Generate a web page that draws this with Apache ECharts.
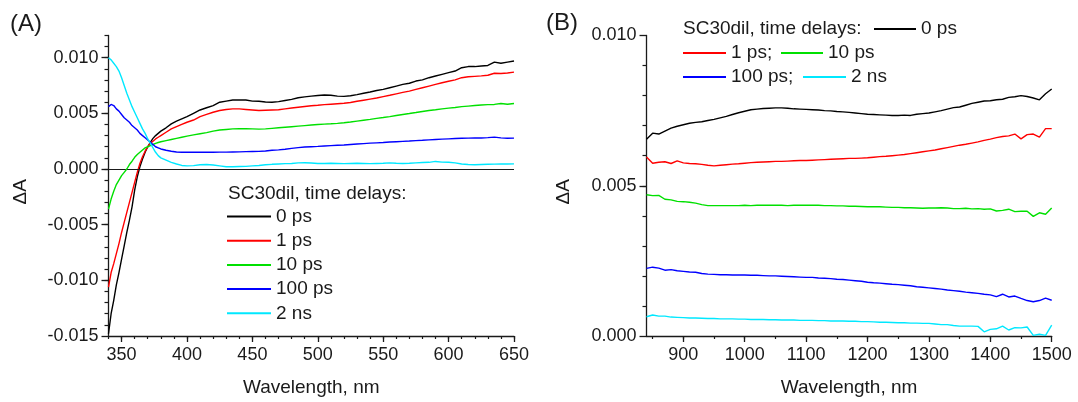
<!DOCTYPE html>
<html>
<head>
<meta charset="utf-8">
<title>SC30dil transient absorption spectra</title>
<script src="https://cdn.jsdelivr.net/npm/echarts@6/dist/echarts.min.js"></script>
<style>
  html, body { margin: 0; padding: 0; background: #fff; }
  #main { width: 1078px; height: 402px; }
</style>
</head>
<body>
<div id="main"></div>
<script>
// panel A: UV-vis range, wavelengths in nm, dA values in units of 1e-3
var wlA = [340,342,344,346,348,350,352,354,356,358,360,362,364,366,368,370,372,374,376,378,380,
  384,388,392,396,
  400,405,410,415,420,425,430,435,440,445,450,455,460,465,470,475,480,485,490,495,
  500,505,510,515,520,525,530,535,540,545,550,555,560,565,570,575,580,585,590,595,
  600,605,610,615,620,625,630,635,640,645,650];
var a0ps = [-14.8,-13.0,-11.8,-10.4,-9.3,-8.1,-6.9,-5.7,-4.6,-3.4,-1.9,-0.7,0.2,0.9,1.5,2.0,2.4,2.75,3.0,3.2,3.4,
  3.7,4.05,4.3,4.5,
  4.7,5.0,5.3,5.5,5.7,6.0,6.1,6.2,6.2,6.2,6.1,6.08,6.02,6.0,6.05,6.15,6.25,6.4,6.48,6.55,
  6.6,6.65,6.62,6.55,6.52,6.58,6.68,6.8,6.92,7.05,7.15,7.3,7.45,7.6,7.7,7.9,8.0,8.2,8.35,8.5,
  8.65,8.8,9.1,9.2,9.2,9.25,9.3,9.6,9.5,9.6,9.7];
var a1ps = [-10.6,-9.3,-8.5,-7.6,-6.7,-5.7,-4.8,-3.9,-3.0,-2.1,-1.2,-0.3,0.5,1.1,1.6,2.0,2.3,2.5,2.7,2.85,3.0,
  3.3,3.6,3.8,4.0,
  4.2,4.4,4.7,4.9,5.1,5.25,5.35,5.4,5.4,5.35,5.3,5.25,5.28,5.3,5.32,5.4,5.48,5.55,5.62,5.68,
  5.72,5.78,5.82,5.86,5.9,5.97,6.08,6.18,6.28,6.38,6.5,6.62,6.75,6.88,7.0,7.15,7.3,7.45,7.6,7.75,
  7.88,8.0,8.2,8.28,8.32,8.36,8.42,8.6,8.58,8.62,8.7];
var a10ps = [-3.6,-2.7,-2.0,-1.4,-1.0,-0.6,-0.3,0.0,0.4,0.7,1.05,1.3,1.5,1.7,1.9,2.0,2.1,2.2,2.3,2.38,2.45,
  2.55,2.65,2.75,2.85,
  2.95,3.07,3.17,3.27,3.4,3.5,3.55,3.6,3.62,3.62,3.6,3.58,3.6,3.65,3.7,3.75,3.8,3.85,3.9,3.95,
  4.0,4.03,4.06,4.1,4.15,4.22,4.3,4.38,4.46,4.55,4.62,4.7,4.8,4.9,4.98,5.07,5.17,5.25,5.32,5.4,
  5.47,5.52,5.6,5.65,5.7,5.75,5.78,5.8,5.88,5.82,5.88];
var a100ps = [5.6,5.8,5.7,5.4,5.2,4.9,4.6,4.4,4.2,3.9,3.7,3.5,3.2,3.0,2.8,2.6,2.4,2.2,2.0,1.9,1.8,
  1.68,1.6,1.53,1.5,
  1.5,1.5,1.51,1.5,1.51,1.52,1.52,1.53,1.54,1.56,1.57,1.58,1.62,1.68,1.72,1.78,1.85,1.92,1.97,2.0,
  2.03,2.07,2.1,2.13,2.16,2.2,2.24,2.28,2.32,2.35,2.38,2.42,2.45,2.48,2.51,2.55,2.58,2.62,2.65,2.68,
  2.71,2.74,2.76,2.77,2.78,2.79,2.82,2.86,2.8,2.76,2.77];
var a2ns = [10.0,9.8,9.5,9.2,8.8,8.2,7.5,6.8,6.2,5.6,5.1,4.6,4.1,3.6,3.2,2.7,2.3,1.9,1.5,1.2,1.0,
  0.8,0.6,0.45,0.32,
  0.28,0.3,0.38,0.4,0.36,0.28,0.2,0.2,0.22,0.24,0.28,0.32,0.38,0.42,0.45,0.48,0.5,0.55,0.56,0.54,
  0.5,0.5,0.52,0.5,0.48,0.5,0.52,0.5,0.48,0.5,0.52,0.55,0.52,0.5,0.52,0.55,0.58,0.6,0.68,0.62,
  0.6,0.55,0.45,0.4,0.38,0.4,0.42,0.44,0.45,0.45,0.46];

// panel B: near-IR range
var wlB = [840,850,860,870,880,890,900,910,920,930,940,950,960,970,980,990,1000,1010,1020,1030,
  1040,1050,1060,1070,1080,1090,1100,1110,1120,1130,1140,1150,1160,1170,1180,1190,1200,1210,1220,1230,
  1240,1250,1260,1270,1280,1290,1300,1310,1320,1330,1340,1350,1360,1370,1380,1390,1400,1410,1420,1430,
  1440,1450,1460,1470,1480,1490,1500];
var b0ps = [6.55,6.75,6.72,6.82,6.92,6.98,7.03,7.08,7.11,7.13,7.17,7.21,7.26,7.31,7.37,7.43,7.48,7.53,7.55,7.57,
  7.58,7.59,7.59,7.58,7.56,7.55,7.54,7.53,7.52,7.50,7.49,7.47,7.46,7.44,7.42,7.40,7.38,7.37,7.36,7.35,
  7.34,7.34,7.35,7.34,7.38,7.40,7.42,7.46,7.50,7.55,7.60,7.62,7.68,7.74,7.78,7.82,7.83,7.86,7.88,7.94,
  7.96,8.00,7.97,7.92,7.86,8.06,8.22];
var b1ps = [5.96,5.75,5.78,5.80,5.74,5.83,5.76,5.74,5.73,5.71,5.68,5.66,5.68,5.70,5.72,5.73,5.75,5.77,5.78,5.79,
  5.80,5.81,5.81,5.82,5.83,5.84,5.84,5.85,5.86,5.87,5.88,5.89,5.90,5.91,5.91,5.92,5.93,5.95,5.97,5.98,
  6.00,6.02,6.04,6.07,6.10,6.13,6.16,6.19,6.23,6.27,6.31,6.35,6.38,6.42,6.46,6.51,6.55,6.60,6.64,6.66,
  6.72,6.56,6.70,6.72,6.62,6.90,6.90];
var b10ps = [4.70,4.67,4.68,4.55,4.53,4.48,4.47,4.45,4.42,4.37,4.34,4.34,4.34,4.34,4.34,4.34,4.35,4.34,4.35,4.35,
  4.35,4.35,4.35,4.34,4.35,4.35,4.35,4.35,4.35,4.34,4.34,4.33,4.33,4.32,4.32,4.31,4.30,4.30,4.30,4.29,
  4.28,4.28,4.27,4.27,4.26,4.25,4.26,4.26,4.27,4.26,4.24,4.24,4.25,4.23,4.24,4.22,4.23,4.16,4.18,4.22,
  4.14,4.15,4.15,3.98,4.10,4.05,4.26];
var b100ps = [2.25,2.29,2.26,2.19,2.21,2.17,2.15,2.13,2.12,2.08,2.06,2.05,2.04,2.04,2.03,2.03,2.03,2.02,2.02,2.01,
  2.00,2.00,1.99,1.98,1.97,1.96,1.95,1.95,1.93,1.92,1.91,1.89,1.88,1.86,1.84,1.82,1.79,1.77,1.76,1.74,
  1.72,1.71,1.69,1.67,1.64,1.62,1.60,1.58,1.56,1.53,1.51,1.49,1.46,1.44,1.42,1.39,1.37,1.31,1.39,1.30,
  1.33,1.25,1.18,1.14,1.18,1.26,1.19];
var b2ns = [0.64,0.70,0.66,0.66,0.63,0.62,0.61,0.60,0.60,0.59,0.58,0.58,0.57,0.57,0.57,0.56,0.56,0.55,0.55,0.55,
  0.54,0.54,0.53,0.53,0.53,0.52,0.52,0.52,0.51,0.51,0.50,0.50,0.50,0.49,0.49,0.48,0.48,0.47,0.46,0.46,
  0.45,0.44,0.44,0.43,0.43,0.42,0.42,0.40,0.38,0.38,0.35,0.33,0.33,0.33,0.32,0.14,0.22,0.24,0.33,0.20,
  0.28,0.27,0.30,0.02,0.06,0.02,0.36];

var delays = ['0 ps', '1 ps', '10 ps', '100 ps', '2 ns'];
var colors = ['#000000', '#ff0000', '#00e000', '#0000ff', '#00e8ff'];

var xTicksA = [350, 400, 450, 500, 550, 600, 650];
var yTicksA = [-0.015, -0.010, -0.005, 0, 0.005, 0.010];
var xTicksB = [900, 1000, 1100, 1200, 1300, 1400, 1500];
var yTicksB = [0, 0.005, 0.010];

var FONT = 'Liberation Sans, Arial, sans-serif';
var INK = '#1a1a1a';

function steps(from, to, step) {
  var out = [];
  for (var k = 0; from + k * step <= to + step / 2; k++) out.push(+(from + k * step).toFixed(4));
  return out;
}

function mainX(grid, min, max, ticks) {
  return {
    type: 'value', gridIndex: grid, min: min, max: max, position: 'bottom',
    name: 'Wavelength, nm', nameLocation: 'middle', nameGap: 42,
    nameTextStyle: { fontSize: 19, color: INK, fontFamily: FONT },
    axisLine: { onZero: false, lineStyle: { color: INK, width: 1.3 } },
    axisTick: { customValues: ticks, length: 6, lineStyle: { color: INK, width: 1.3 } },
    axisLabel: { customValues: ticks, fontSize: 18, color: INK, fontFamily: FONT, margin: 10,
      formatter: function (v) { return String(v); } },
    splitLine: { show: false }
  };
}
function minorX(grid, min, max, ticks) {
  return {
    type: 'value', gridIndex: grid, min: min, max: max, position: 'bottom',
    axisLine: { show: false, onZero: false },
    axisTick: { customValues: ticks, length: 3, lineStyle: { color: INK, width: 1.2 } },
    axisLabel: { show: false }, splitLine: { show: false }
  };
}
function mainY(grid, min, max, ticks, gap) {
  return {
    type: 'value', gridIndex: grid, min: min, max: max, position: 'left',
    name: '\u0394A', nameLocation: 'middle', nameRotate: 90, nameGap: gap,
    nameTextStyle: { fontSize: 19, color: INK, fontFamily: FONT, padding: [0, 12, 0, 0] },
    axisLine: { show: true, onZero: false, lineStyle: { color: INK, width: 1.3 } },
    axisTick: { show: true, customValues: ticks, length: 7, lineStyle: { color: INK, width: 1.3 } },
    axisLabel: { customValues: ticks, fontSize: 18, color: INK, fontFamily: FONT, margin: 10,
      formatter: function (v) { return v.toFixed(3); } },
    splitLine: { show: false }
  };
}
function minorY(grid, min, max, ticks) {
  return {
    type: 'value', gridIndex: grid, min: min, max: max, position: 'left',
    axisLine: { show: false, onZero: false },
    axisTick: { show: true, customValues: ticks, length: 4, lineStyle: { color: INK, width: 1.2 } },
    axisLabel: { show: false }, splitLine: { show: false }
  };
}

function panelSeries(wl, sets, axisIndex) {
  return sets.map(function (vals, k) {
    return {
      name: delays[k], type: 'line', xAxisIndex: axisIndex, yAxisIndex: axisIndex,
      data: wl.map(function (x, i) { return [x, vals[i] / 1000]; }),
      showSymbol: false, symbol: 'none', animation: false, z: 3 + k,
      lineStyle: { width: 1.4, color: colors[k] },
      itemStyle: { color: colors[k] }
    };
  });
}

var seriesA = panelSeries(wlA, [a0ps, a1ps, a10ps, a100ps, a2ns], 0);
var seriesB = panelSeries(wlB, [b0ps, b1ps, b10ps, b100ps, b2ns], 2);

// zero line of panel A
seriesA[0].markLine = {
  silent: true, symbol: ['none', 'none'], label: { show: false },
  lineStyle: { color: INK, width: 1.2, type: 'solid' },
  emphasis: { disabled: true },
  data: [{ yAxis: 0 }]
};

function legendRow(names, left, top, width, fmt) {
  var lg = {
    data: names, left: left, top: top, orient: 'vertical', padding: 0,
    itemGap: 5.2, itemWidth: width, itemHeight: 2, icon: 'rect',
    selectedMode: false,
    textStyle: { fontSize: 19, lineHeight: 19, color: INK, fontFamily: FONT }
  };
  if (fmt) lg.formatter = fmt;
  return lg;
}
var semi = function (n) { return n + ';'; };

var chart = echarts.init(document.getElementById('main'));
chart.setOption({
  backgroundColor: '#ffffff',
  animation: false,
  grid: [
    { left: 108.5, right: 564, top: 35.4, bottom: 65.3 },
    { left: 646.5, right: 26.3, top: 35.5, bottom: 65.5 }
  ],
  xAxis: [
    mainX(0, 340, 650, xTicksA),
    minorX(0, 340, 650, steps(340, 650, 10)),
    mainX(1, 840, 1500, xTicksB),
    minorX(1, 840, 1500, steps(850, 1450, 50))
  ],
  yAxis: [
    mainY(0, -0.015, 0.012, yTicksA, 78),
    minorY(0, -0.015, 0.012, steps(-0.014, 0.012, 0.001)),
    mainY(1, 0, 0.010, yTicksB, 73),
    minorY(1, 0, 0.010, steps(0.001, 0.009, 0.001))
  ],
  legend: [
    legendRow(delays, 227, 207, 44),
    legendRow(['0 ps'], 874, 19.5, 42),
    legendRow(['1 ps'], 683, 43.5, 43, semi),
    legendRow(['10 ps'], 781, 43.5, 42),
    legendRow(['100 ps'], 683, 67.5, 43, semi),
    legendRow(['2 ns'], 803, 67.5, 43)
  ],
  graphic: [
    { type: 'text', x: 10, y: 24, style: { text: '(A)', fontSize: 24, fontFamily: FONT, fill: INK, verticalAlign: 'middle' } },
    { type: 'text', x: 546, y: 23, style: { text: '(B)', fontSize: 24, fontFamily: FONT, fill: INK, verticalAlign: 'middle' } },
    { type: 'text', x: 228, y: 194, style: { text: 'SC30dil, time delays:', fontSize: 19, fontFamily: FONT, fill: INK, verticalAlign: 'middle' } },
    { type: 'text', x: 683, y: 29, style: { text: 'SC30dil, time delays:', fontSize: 19, fontFamily: FONT, fill: INK, verticalAlign: 'middle' } }
  ],
  series: seriesA.concat(seriesB)
});
</script>
</body>
</html>
